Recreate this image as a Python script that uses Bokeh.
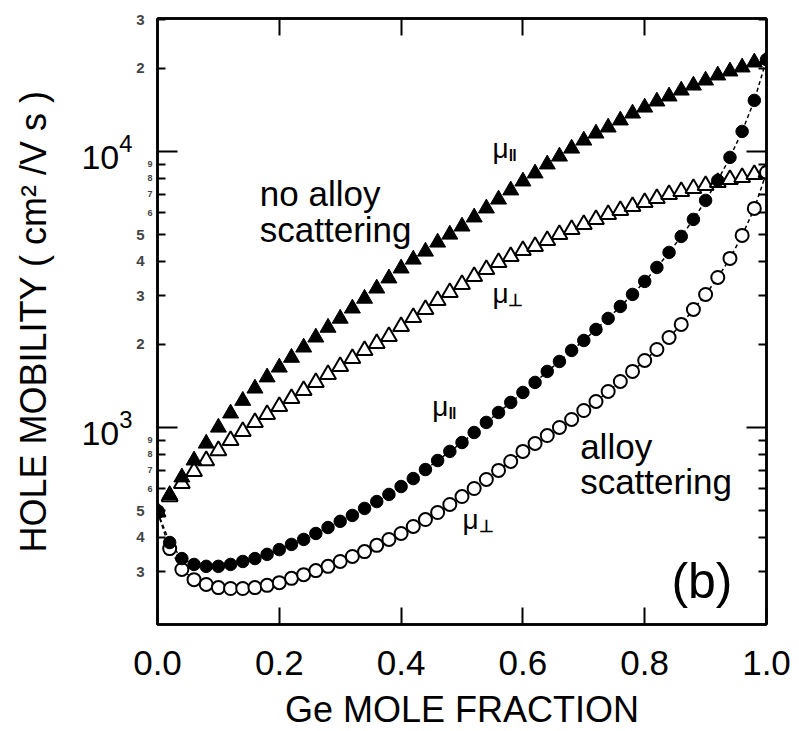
from bokeh.plotting import figure
from bokeh.models import (Range1d, LogAxis, LinearAxis, FixedTicker,
                          PrintfTickFormatter, LogTickFormatter)
from bokeh.embed import file_html
from bokeh.resources import INLINE
from bokeh.core.properties import value

# Ge mole fraction of the Si(1-x)Ge(x) alloy
ge_fraction = [0.00, 0.02, 0.04, 0.06, 0.08, 0.10, 0.12, 0.14, 0.16, 0.18,
               0.20, 0.22, 0.24, 0.26, 0.28, 0.30, 0.32, 0.34, 0.36, 0.38,
               0.40, 0.42, 0.44, 0.46, 0.48, 0.50, 0.52, 0.54, 0.56, 0.58,
               0.60, 0.62, 0.64, 0.66, 0.68, 0.70, 0.72, 0.74, 0.76, 0.78,
               0.80, 0.82, 0.84, 0.86, 0.88, 0.90, 0.92, 0.94, 0.96, 0.98,
               1.00]

# hole mobility (cm^2 / V s), in-plane (par) and perpendicular (perp)
mu_par_no_alloy = [495, 570, 660, 760, 875, 1000, 1125, 1250, 1385, 1520,
                   1650, 1790, 1950, 2120, 2300, 2480, 2700, 2930, 3190, 3470,
                   3770, 4060, 4340, 4680, 5000, 5350, 5770, 6220, 6700, 7230,
                   7790, 8330, 8980, 9590, 10250, 10960, 11620, 12220, 12960, 13730,
                   14430, 15180, 15830, 16630, 17340, 18080, 18860, 19500, 20160, 21020,
                   21500]
mu_perp_no_alloy = [495, 562, 627, 693, 759, 825, 897, 967, 1043, 1115,
                    1191, 1274, 1362, 1456, 1556, 1664, 1778, 1901, 2015, 2137,
                    2322, 2504, 2676, 2885, 3084, 3297, 3524, 3736, 3961, 4165,
                    4379, 4527, 4759, 5003, 5217, 5439, 5671, 5912, 6113, 6320,
                    6535, 6756, 6985, 7163, 7344, 7530, 7721, 7917, 8050, 8254,
                    8390]
mu_par_alloy = [495, 383, 335, 319, 314, 314, 319, 327, 335, 347,
                361, 377, 393, 413, 434, 457, 480, 509, 539, 572,
                611, 653, 704, 759, 819, 882, 959, 1043, 1133, 1232,
                1339, 1456, 1596, 1734, 1901, 2066, 2265, 2483, 2744, 3033,
                3381, 3799, 4306, 4921, 5671, 6645, 7851, 9512, 11815, 15305,
                21500]
mu_perp_alloy = [495, 364, 306, 281, 270, 263, 261, 261, 263, 268,
                 274, 284, 293, 303, 314, 327, 341, 355, 374, 393,
                 413, 438, 464, 492, 526, 562, 601, 648, 699, 753,
                 819, 875, 935, 1000, 1069, 1152, 1242, 1350, 1468, 1596,
                 1749, 1917, 2119, 2362, 2676, 3033, 3495, 4096, 4962, 6216,
                 8390]

# axis ticks
x_ticks = [0.0, 0.2, 0.4, 0.6, 0.8, 1.0]
x_inner_ticks = [0.2, 0.4, 0.6, 0.8]
decade_ticks = [1000, 10000]
minor_ticks = [300, 400, 500, 600, 700, 800, 900,
               2000, 3000, 4000, 5000, 6000, 7000, 8000, 9000,
               20000, 30000]
big_minor_ticks = [300, 400, 500, 2000, 3000, 4000, 5000, 20000, 30000]
tiny_minor_ticks = [600, 700, 800, 900, 6000, 7000, 8000, 9000]

FONT = "Liberation Sans"
INK = "black"

# label-only axes: no line, no ticks, no reserved tick space
LABEL_ONLY = dict(axis_line_color=None,
                  major_tick_line_color=None, minor_tick_line_color=None,
                  major_tick_in=0, major_tick_out=0,
                  minor_tick_in=0, minor_tick_out=0)


def leading_digit(v):
    return str(int(v))[0]


p = figure(frame_width=609, frame_height=606,
           x_range=Range1d(0, 1), y_range=Range1d(193.3, 30300),
           y_axis_type="log",
           output_backend="svg", toolbar_location=None,
           min_border_left=157, min_border_right=33,
           min_border_top=18, min_border_bottom=107)
p.xgrid.visible = False
p.ygrid.visible = False
p.outline_line_color = INK
p.outline_line_width = 2.5
p.background_fill_color = "white"
p.border_fill_color = "white"

# ---- bottom axis ----
xa = p.xaxis[0]
xa.ticker = FixedTicker(ticks=x_ticks, minor_ticks=[])
xa.formatter = PrintfTickFormatter(format="%.1f")
xa.major_tick_in = 17
xa.major_tick_out = 0
xa.minor_tick_in = 0
xa.minor_tick_out = 0
xa.minor_tick_line_color = None
xa.major_tick_line_width = 2
xa.axis_line_width = 2.5
xa.major_label_text_font = FONT
xa.major_label_text_font_size = "35px"
xa.major_label_text_color = INK
xa.major_label_standoff = 26
xa.axis_label = "Ge MOLE FRACTION"
xa.axis_label_text_font = FONT
xa.axis_label_text_font_size = "36px"
xa.axis_label_text_font_style = "normal"
xa.axis_label_text_color = INK
xa.axis_label_standoff = 11

# ---- top axis: inward ticks only ----
top = LinearAxis(ticker=FixedTicker(ticks=x_inner_ticks, minor_ticks=[]),
                 major_tick_in=17, major_tick_out=0, major_tick_line_width=2,
                 minor_tick_in=0, minor_tick_out=0,
                 minor_tick_line_color=None, axis_line_width=2.5,
                 major_label_text_font_size="0px", major_label_standoff=0)
top.major_label_overrides = {t: "" for t in x_inner_ticks}
p.add_layout(top, "above")

# ---- left axis: line and inward ticks ----
ya = p.yaxis[0]
ya.ticker = FixedTicker(ticks=decade_ticks, minor_ticks=minor_ticks)
ya.major_tick_in = 20
ya.major_tick_out = 0
ya.minor_tick_in = 8
ya.minor_tick_out = 0
ya.major_tick_line_width = 2
ya.minor_tick_line_width = 2
ya.axis_line_width = 2.5
ya.major_label_text_font_size = "0px"
ya.major_label_standoff = 0
ya.major_label_overrides = {t: "" for t in decade_ticks}

# tiny digit labels 6..9 next to the axis
tiny = LogAxis(ticker=FixedTicker(ticks=tiny_minor_ticks, minor_ticks=[]),
               major_label_standoff=5,
               major_label_text_font=FONT, major_label_text_font_size="9px",
               major_label_text_font_style="bold", **LABEL_ONLY)
tiny.major_label_overrides = {t: leading_digit(t) for t in tiny_minor_ticks}
p.add_layout(tiny, "left")

# digit labels 2..5
digits = LogAxis(ticker=FixedTicker(ticks=big_minor_ticks, minor_ticks=[]),
                 major_label_standoff=0,
                 major_label_text_font=FONT, major_label_text_font_size="15px",
                 major_label_text_font_style="bold", **LABEL_ONLY)
digits.major_label_overrides = {t: leading_digit(t) for t in big_minor_ticks}
p.add_layout(digits, "left")

# decade labels 10^3, 10^4 and the axis title
decades = LogAxis(ticker=FixedTicker(ticks=decade_ticks, minor_ticks=[]),
                  formatter=LogTickFormatter(),
                  major_label_standoff=1,
                  major_label_text_font=FONT, major_label_text_font_size="34px",
                  major_label_text_color=INK,
                  axis_label="HOLE MOBILITY ( cm\u00b2 /V s )",
                  axis_label_text_font=FONT, axis_label_text_font_size="36px",
                  axis_label_text_font_style="normal",
                  axis_label_text_color=INK,
                  axis_label_standoff=24, **LABEL_ONLY)
p.add_layout(decades, "left")

# ---- right axis: inward ticks only ----
right = LogAxis(ticker=FixedTicker(ticks=decade_ticks, minor_ticks=minor_ticks),
                major_tick_in=20, major_tick_out=0, minor_tick_in=8, minor_tick_out=0,
                major_tick_line_width=2, minor_tick_line_width=2,
                axis_line_width=2.5,
                major_label_text_font_size="0px", major_label_standoff=0)
right.major_label_overrides = {t: "" for t in decade_ticks}
p.add_layout(right, "right")

# ---- data ----
p.line(ge_fraction, mu_par_alloy, line_color=INK, line_width=1.5, line_dash="4 3")
p.line(ge_fraction, mu_perp_alloy, line_color=INK, line_width=1.5, line_dash="4 3")

p.scatter(ge_fraction, mu_perp_no_alloy, marker="triangle", size=16,
          fill_color="white", line_color=INK, line_width=2)
p.scatter(ge_fraction, mu_par_no_alloy, marker="triangle", size=16,
          fill_color=INK, line_color=INK, line_width=1)
p.scatter(ge_fraction, mu_perp_alloy, marker="circle", size=13,
          fill_color="white", line_color=INK, line_width=2)
p.scatter(ge_fraction, mu_par_alloy, marker="circle", size=12.5,
          fill_color=INK, line_color=INK, line_width=1)

# ---- annotations ----
text_kw = dict(text_font=value(FONT), text_color=INK, text_baseline="alphabetic",
               text_align="left")
p.text(x=[0.168, 0.168], y=[7044, 5216], text=["no alloy", "scattering"],
       text_font_size="35px", **text_kw)
p.text(x=[0.694, 0.694], y=[854, 637], text=["alloy", "scattering"],
       text_font_size="35px", **text_kw)

mu_x = [0.550, 0.550, 0.451, 0.501]
mu_y = [10254, 3050, 1190, 464]
p.text(x=mu_x, y=mu_y, text=["\u03bc", "\u03bc", "\u03bc", "\u03bc"],
       text_font_size="28px", **text_kw)
p.text(x=mu_x, y=mu_y, text=["\u2016", "\u22a5", "\u2016", "\u22a5"],
       x_offset=16, y_offset=7, text_font_size="17px", text_font_style="bold",
       **text_kw)

p.text(x=[0.894], y=[277], text=["(b)"], text_font=value(FONT),
       text_font_size="50px", text_color=INK, text_align="center",
       text_baseline="middle")

open("out.html", "w").write(file_html(p, INLINE))
